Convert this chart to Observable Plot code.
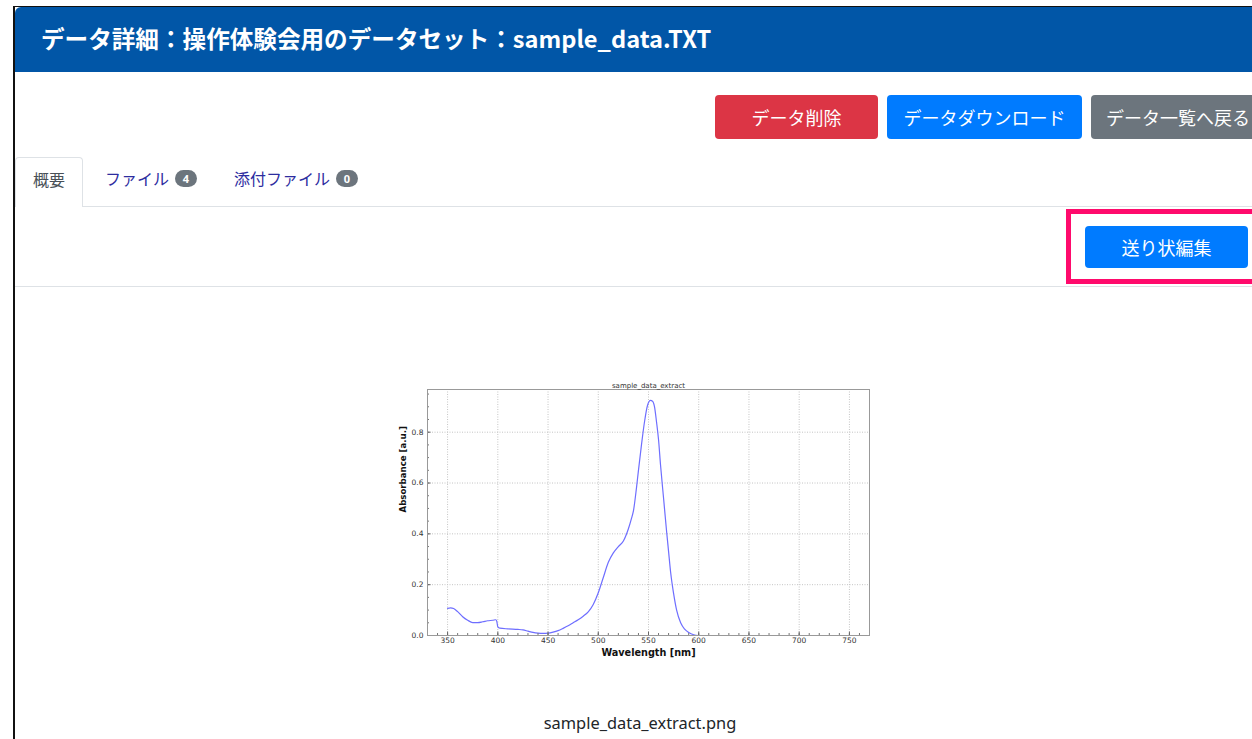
<!DOCTYPE html>
<html lang="ja">
<head>
<meta charset="utf-8">
<script src="https://cdn.jsdelivr.net/npm/d3@7"></script>
<script src="https://cdn.jsdelivr.net/npm/@observablehq/plot@0.6"></script>
<style>
  html, body { margin:0; padding:0; }
  body { width:1252px; height:739px; overflow:hidden; background:#fff; position:relative;
         font-family:"Noto Sans CJK JP","Noto Sans",sans-serif; }
  .abs { position:absolute; }
  #outline { left:13px; top:6px; width:1400px; height:900px; border-left:2px solid #111; border-top:1px solid #111; box-sizing:border-box; }
  #header { left:15px; top:7px; width:1400px; height:65px; background:#0156a7; border-top-left-radius:6px;
            display:flex; align-items:center; padding-left:26px; padding-bottom:3px; box-sizing:border-box; }
  #header span { color:#fff; font-size:23.6px; font-weight:700; letter-spacing:0; white-space:nowrap; }
  .btn { position:absolute; top:95px; height:44px; display:flex; align-items:center; justify-content:center;
         color:#fff; font-size:18px; border-radius:4px; box-sizing:border-box; white-space:nowrap; padding-bottom:1px; }
  .line { position:absolute; left:15px; width:1400px; height:1px; background:#dee2e6; }
  .tab { position:absolute; top:157px; height:49px; display:flex; align-items:center; font-size:16px; white-space:nowrap;
         padding-bottom:7px; box-sizing:border-box; }
  .badge { display:inline-flex; align-items:center; justify-content:center; background:#6c757d; color:#fff;
           font-size:11px; font-weight:700; width:22px; height:17px; border-radius:9px; margin-left:6px; font-family:"Noto Sans",sans-serif; }
  #active { left:15px; width:68px; height:50px; border:1px solid #dee2e6; border-bottom:none; background:#fff;
            border-radius:4px 4px 0 0; justify-content:center; color:#495057; padding-bottom:8px; }
  .link { color:#2d2d9f; }
  #pink { left:1066px; top:209px; width:220px; height:75px; border:5px solid #ff0a6c; box-sizing:border-box; }
  #chart { left:390px; top:372px; }
  #caption { left:440px; width:400px; top:711px; height:24px; line-height:24px; text-align:center;
             font-family:"Noto Sans",sans-serif; font-size:16.4px; color:#212529; }
</style>
</head>
<body>
<div id="outline" class="abs"></div>
<div id="header" class="abs"><span>データ詳細：操作体験会用のデータセット：sample_data.TXT</span></div>

<div class="btn" style="left:715px;width:163px;background:#dc3545;">データ削除</div>
<div class="btn" style="left:887px;width:195px;background:#007bff;">データダウンロード</div>
<div class="btn" style="left:1091px;width:190px;background:#6c757d;justify-content:flex-start;padding-left:15px;">データ一覧へ戻る</div>

<div class="line" style="top:206px;"></div>
<div id="active" class="tab">概要</div>
<div class="tab link" style="left:105px;">ファイル<span class="badge">4</span></div>
<div class="tab link" style="left:234px;">添付ファイル<span class="badge">0</span></div>

<div id="pink" class="abs"></div>
<div class="btn" style="left:1085px;top:226px;height:42px;width:163px;background:#007bff;">送り状編集</div>
<div class="line" style="top:286px;"></div>

<div id="chart" class="abs"></div>
<div id="caption" class="abs">sample_data_extract.png</div>

<script>
// ---- data ----
const wavelength = [350,353,356,360,365,370,375,380,385,390,395,398,399,400,402,410,420,425,430,435,440,445,450,455,460,465,470,475,480,485,490,495,500,505,510,515,520,525,530,533,535,538,540,543,546,549,552,554,556,558,560,562,565,568,570,572,575,578,582,586,590,595,600];
const absorbance = [0.107,0.109,0.106,0.094,0.074,0.060,0.051,0.051,0.054,0.058,0.060,0.062,0.055,0.034,0.029,0.026,0.024,0.022,0.017,0.012,0.009,0.008,0.009,0.013,0.019,0.028,0.038,0.050,0.062,0.076,0.093,0.122,0.168,0.228,0.288,0.325,0.350,0.372,0.420,0.460,0.490,0.580,0.650,0.750,0.840,0.905,0.925,0.922,0.900,0.840,0.770,0.670,0.540,0.410,0.330,0.250,0.165,0.100,0.050,0.025,0.012,0.003,0.000];
const xTicks = [350,400,450,500,550,600,650,700,750];
const yTicks = [0.0,0.2,0.4,0.6,0.8];
const xMinor = d3.range(340, 770, 10);
const yMinor = d3.range(0.05, 0.96, 0.05);
const chartTitle = "sample_data_extract";
const xLabel = "Wavelength [nm]";
const yLabel = "Absorbance [a.u.]";

const spectrum = wavelength.map((w, i) => ({w, a: absorbance[i]}));

const W = 490, H = 295, mL = 37, mR = 11, mT = 17, mB = 32;
const fw = W - mL - mR, fh = H - mT - mB;

const chart = Plot.plot({
  width: W, height: H,
  marginLeft: mL, marginRight: mR, marginTop: mT, marginBottom: mB,
  style: {fontFamily: "DejaVu Sans", background: "transparent", overflow: "visible"},
  x: {domain: [330, 770]},
  y: {domain: [0, 0.968]},
  marks: [
    Plot.gridX(xTicks, {stroke: "#c4c4c4", strokeOpacity: 1, strokeDasharray: "1,1.5"}),
    Plot.gridY(yTicks.slice(1), {stroke: "#c4c4c4", strokeOpacity: 1, strokeDasharray: "1,1.5"}),
    Plot.line(spectrum, {x: "w", y: "a", stroke: "#6e6eff", strokeWidth: 1.2, curve: "monotone-x"}),
    Plot.tickX(xMinor, {x: d => d, stroke: "#777", insetTop: fh - 2}),
    Plot.tickX(xTicks, {x: d => d, stroke: "#666", insetTop: fh - 3.5}),
    Plot.tickY(yMinor, {y: d => d, stroke: "#777", insetRight: fw - 2}),
    Plot.tickY(yTicks, {y: d => d, stroke: "#666", insetRight: fw - 3.5}),
    Plot.frame({stroke: "#999"}),
    Plot.axisX(xTicks, {tickSize: 0, tickPadding: 2.5, fontSize: 7.5, fill: "#333", label: null}),
    Plot.axisY(yTicks, {tickSize: 0, tickPadding: 4, fontSize: 7.5, fill: "#333", label: null, tickFormat: d3.format(".1f")}),
    Plot.text([chartTitle], {frameAnchor: "top", dy: -6, fontSize: 7, fill: "#333"}),
    Plot.text([xLabel], {frameAnchor: "bottom", dy: 20.5, fontSize: 9.7, fontWeight: "bold", fill: "#111"}),
    Plot.text([yLabel], {frameAnchor: "left", dx: -24, rotate: -90, fontSize: 8.6, fontWeight: "bold", fill: "#111"})
  ]
});
document.getElementById("chart").appendChild(chart);
</script>
</body>
</html>
